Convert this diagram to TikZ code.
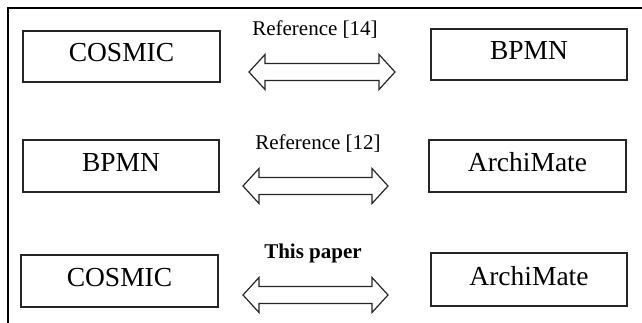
\documentclass[tikz,border=0pt]{standalone}
\usepackage{fontspec}
\setmainfont{Liberation Serif}
\begin{document}
\begin{tikzpicture}[x=1pt,y=-1pt,
  modelbox/.style={draw=black!85,line width=1.3pt,minimum width=197pt,minimum height=51pt,
    inner sep=0pt,text height=17pt,text depth=6pt,font=\fontsize{27.5}{30}\selectfont},
  relnote/.style={inner sep=0pt,anchor=base,font=\fontsize{21}{24}\selectfont},
  blockarrow/.style={draw=black!85,line width=1.2pt,line join=miter,fill=white},
  frameline/.style={draw=black,line width=2pt}]
\useasboundingbox (0,0) rectangle (642,323);

% outer frame (only top and left edges visible)
\draw[frameline] (8,323) -- (8,8) -- (642,8);

% double-headed block arrow: #1 left tip x, #2 right tip x, #3 centre y
\newcommand{\relarrow}[3]{%
  \draw[blockarrow] (#1,#3) -- (#1+16,#3-17.5) -- (#1+16,#3-8.5) -- (#2-16,#3-8.5)
    -- (#2-16,#3-17.5) -- (#2,#3) -- (#2-16,#3+17.5) -- (#2-16,#3+8.5)
    -- (#1+16,#3+8.5) -- (#1+16,#3+17.5) -- cycle;}

% row 1
\node[modelbox] (cosmicA) at (121.5,56.5) {COSMIC};
\node[modelbox,minimum width=196pt] (bpmnA) at (529,54.5) {BPMN};
\node[relnote] (refA) at (315,36) {Reference [14]};
\relarrow{249}{395}{72}

% row 2
\node[modelbox,minimum width=196pt,minimum height=52pt] (bpmnB) at (121,166) {BPMN};
\node[modelbox,minimum height=52pt] (archiB) at (527.5,166) {ArchiMate};
\node[relnote] (refB) at (318,150) {Reference [12]};
\relarrow{243}{388}{186}

% row 3
\node[modelbox,minimum height=52pt] (cosmicC) at (119.5,281) {COSMIC};
\node[modelbox,minimum width=196pt,minimum height=53pt] (archiC) at (529,279.5) {ArchiMate};
\node[relnote,font=\fontsize{21}{24}\selectfont\bfseries] (refC) at (313,258) {This paper};
\relarrow{243}{388}{295}
\end{tikzpicture}
\end{document}
